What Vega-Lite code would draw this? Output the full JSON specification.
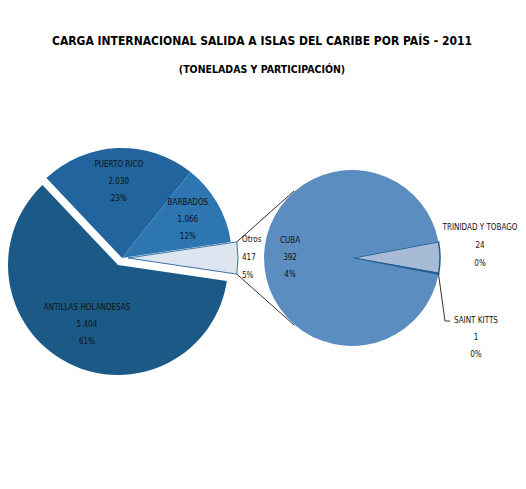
{
  "$schema": "https://vega.github.io/schema/vega-lite/v6.json",
  "width": 514,
  "height": 336,
  "padding": {"left": 5, "top": 34, "right": 7, "bottom": 5},
  "background": "white",
  "title": {
    "text": "CARGA INTERNACIONAL SALIDA A ISLAS DEL CARIBE POR PAÍS - 2011",
    "subtitle": "(TONELADAS Y PARTICIPACIÓN)",
    "anchor": "middle",
    "font": "DejaVu Sans Condensed, DejaVu Sans, sans-serif",
    "fontSize": 12,
    "fontWeight": "bold",
    "color": "#000000",
    "subtitleFont": "DejaVu Sans Condensed, DejaVu Sans, sans-serif",
    "subtitleFontSize": 10.5,
    "subtitleFontWeight": "bold",
    "subtitleColor": "#000000",
    "subtitlePadding": 17,
    "offset": 14
  },
  "config": {
    "view": {"stroke": null},
    "locale": {"number": {"decimal": ",", "thousands": ".", "grouping": [3], "currency": ["$", ""]}},
    "text": {"font": "DejaVu Sans Condensed, DejaVu Sans, sans-serif", "fontSize": 8, "color": "#111111", "baseline": "middle"}
  },
  "resolve": {"scale": {"theta": "independent"}},
  "layer": [
    {
      "data": {"values": [
        {"grafico": "principal", "pais": "Otros", "toneladas": 417, "participacion": 0.05, "orden": 1},
        {"grafico": "principal", "pais": "ANTILLAS HOLANDESAS", "toneladas": 5404, "participacion": 0.61, "orden": 2},
        {"grafico": "principal", "pais": "PUERTO RICO", "toneladas": 2030, "participacion": 0.23, "orden": 3},
        {"grafico": "principal", "pais": "BARBADOS", "toneladas": 1066, "participacion": 0.12, "orden": 4}
      ]},
      "encoding": {
        "theta": {"field": "toneladas", "type": "quantitative", "stack": true, "scale": {"range": [1.42384, 7.70703]}},
        "order": {"field": "orden", "type": "quantitative"},
        "x": {"field": "grafico", "type": "nominal", "axis": null, "scale": {"type": "point", "domain": ["principal", "secundario"], "padding": 0.6174, "align": 0.412}}
      },
      "layer": [
        {
          "mark": {"type": "arc", "outerRadius": 110},
          "encoding": {
            "color": {"field": "pais", "type": "nominal", "legend": null, "scale": {"domain": ["ANTILLAS HOLANDESAS", "PUERTO RICO", "BARBADOS", "Otros", "CUBA", "TRINIDAD Y TOBAGO", "SAINT KITTS"], "range": ["#1B5A87", "#22649D", "#2D76B2", "#DDE5F0", "#5B8DC0", "#A7BAD6", "#1F5F8F"]}},
            "opacity": {"condition": {"test": "datum.pais === 'PUERTO RICO' || datum.pais === 'BARBADOS'", "value": 1}, "value": 0}
          }
        },
        {
          "mark": {"type": "arc", "outerRadius": 110, "xOffset": -4, "yOffset": 7},
          "encoding": {
            "color": {"field": "pais", "type": "nominal", "legend": null, "scale": {"domain": ["ANTILLAS HOLANDESAS", "PUERTO RICO", "BARBADOS", "Otros", "CUBA", "TRINIDAD Y TOBAGO", "SAINT KITTS"], "range": ["#1B5A87", "#22649D", "#2D76B2", "#DDE5F0", "#5B8DC0", "#A7BAD6", "#1F5F8F"]}},
            "opacity": {"condition": {"test": "datum.pais === 'ANTILLAS HOLANDESAS'", "value": 1}, "value": 0}
          }
        },
        {
          "mark": {"type": "arc", "outerRadius": 110, "xOffset": 6, "stroke": "#3F72A8", "strokeWidth": 1},
          "encoding": {
            "color": {"field": "pais", "type": "nominal", "legend": null, "scale": {"domain": ["ANTILLAS HOLANDESAS", "PUERTO RICO", "BARBADOS", "Otros", "CUBA", "TRINIDAD Y TOBAGO", "SAINT KITTS"], "range": ["#1B5A87", "#22649D", "#2D76B2", "#DDE5F0", "#5B8DC0", "#A7BAD6", "#1F5F8F"]}},
            "opacity": {"condition": {"test": "datum.pais === 'Otros'", "value": 1}, "value": 0}
          }
        },
        {
          "mark": {"type": "text", "radius": 76, "dy": -17},
          "encoding": {
            "text": {"field": "pais", "type": "nominal"},
            "opacity": {"condition": {"test": "datum.pais === 'Otros'", "value": 0}, "value": 1}
          }
        },
        {
          "mark": {"type": "text", "radius": 76, "dy": 0},
          "encoding": {
            "text": {"field": "toneladas", "type": "quantitative", "format": ",.0f"},
            "opacity": {"condition": {"test": "datum.pais === 'Otros'", "value": 0}, "value": 1}
          }
        },
        {
          "mark": {"type": "text", "radius": 76, "dy": 17},
          "encoding": {
            "text": {"field": "participacion", "type": "quantitative", "format": ".0%"},
            "opacity": {"condition": {"test": "datum.pais === 'Otros'", "value": 0}, "value": 1}
          }
        },
        {
          "mark": {"type": "text", "radius": 120, "dy": -18, "align": "left"},
          "encoding": {
            "text": {"field": "pais", "type": "nominal"},
            "opacity": {"condition": {"test": "datum.pais === 'Otros'", "value": 1}, "value": 0}
          }
        },
        {
          "mark": {"type": "text", "radius": 120, "dy": 0, "align": "left"},
          "encoding": {
            "text": {"field": "toneladas", "type": "quantitative", "format": ",.0f"},
            "opacity": {"condition": {"test": "datum.pais === 'Otros'", "value": 1}, "value": 0}
          }
        },
        {
          "mark": {"type": "text", "radius": 120, "dy": 18, "align": "left"},
          "encoding": {
            "text": {"field": "participacion", "type": "quantitative", "format": ".0%"},
            "opacity": {"condition": {"test": "datum.pais === 'Otros'", "value": 1}, "value": 0}
          }
        }
      ]
    },
    {
      "data": {"values": [
        {"grafico": "secundario", "pais": "TRINIDAD Y TOBAGO", "toneladas": 24, "participacion": 0, "orden": 1},
        {"grafico": "secundario", "pais": "SAINT KITTS", "toneladas": 1, "participacion": 0, "orden": 2},
        {"grafico": "secundario", "pais": "CUBA", "toneladas": 392, "participacion": 0.04, "orden": 3}
      ]},
      "encoding": {
        "theta": {"field": "toneladas", "type": "quantitative", "stack": true, "scale": {"range": [1.3858, 7.6690]}},
        "order": {"field": "orden", "type": "quantitative"},
        "x": {"field": "grafico", "type": "nominal", "axis": null, "scale": {"type": "point", "domain": ["principal", "secundario"], "padding": 0.6174, "align": 0.412}}
      },
      "layer": [
        {
          "mark": {"type": "arc", "outerRadius": 88, "stroke": "#1F5F8F"},
          "encoding": {
            "color": {"field": "pais", "type": "nominal", "legend": null, "scale": {"domain": ["ANTILLAS HOLANDESAS", "PUERTO RICO", "BARBADOS", "Otros", "CUBA", "TRINIDAD Y TOBAGO", "SAINT KITTS"], "range": ["#1B5A87", "#22649D", "#2D76B2", "#DDE5F0", "#5B8DC0", "#A7BAD6", "#1F5F8F"]}},
            "strokeWidth": {"condition": {"test": "datum.pais === 'CUBA'", "value": 0}, "value": 1.5}
          }
        },
        {
          "mark": {"type": "text", "radius": 62, "dy": -17},
          "encoding": {
            "text": {"field": "pais", "type": "nominal"},
            "opacity": {"condition": {"test": "datum.pais === 'CUBA'", "value": 1}, "value": 0}
          }
        },
        {
          "mark": {"type": "text", "radius": 62, "dy": 0},
          "encoding": {
            "text": {"field": "toneladas", "type": "quantitative", "format": ",.0f"},
            "opacity": {"condition": {"test": "datum.pais === 'CUBA'", "value": 1}, "value": 0}
          }
        },
        {
          "mark": {"type": "text", "radius": 62, "dy": 17},
          "encoding": {
            "text": {"field": "participacion", "type": "quantitative", "format": ".0%"},
            "opacity": {"condition": {"test": "datum.pais === 'CUBA'", "value": 1}, "value": 0}
          }
        },
        {
          "mark": {"type": "text", "radius": 128, "dy": -29},
          "encoding": {
            "text": {"field": "pais", "type": "nominal"},
            "opacity": {"condition": {"test": "datum.pais === 'TRINIDAD Y TOBAGO'", "value": 1}, "value": 0}
          }
        },
        {
          "mark": {"type": "text", "radius": 128, "dy": -11},
          "encoding": {
            "text": {"field": "toneladas", "type": "quantitative", "format": ",.0f"},
            "opacity": {"condition": {"test": "datum.pais === 'TRINIDAD Y TOBAGO'", "value": 1}, "value": 0}
          }
        },
        {
          "mark": {"type": "text", "radius": 128, "dy": 7},
          "encoding": {
            "text": {"field": "participacion", "type": "quantitative", "format": ".0%"},
            "opacity": {"condition": {"test": "datum.pais === 'TRINIDAD Y TOBAGO'", "value": 1}, "value": 0}
          }
        },
        {
          "mark": {"type": "text", "radius": 124, "dx": 2, "dy": 40},
          "encoding": {
            "text": {"field": "pais", "type": "nominal"},
            "opacity": {"condition": {"test": "datum.pais === 'SAINT KITTS'", "value": 1}, "value": 0}
          }
        },
        {
          "mark": {"type": "text", "radius": 124, "dx": 2, "dy": 57},
          "encoding": {
            "text": {"field": "toneladas", "type": "quantitative", "format": ",.0f"},
            "opacity": {"condition": {"test": "datum.pais === 'SAINT KITTS'", "value": 1}, "value": 0}
          }
        },
        {
          "mark": {"type": "text", "radius": 124, "dx": 2, "dy": 74},
          "encoding": {
            "text": {"field": "participacion", "type": "quantitative", "format": ".0%"},
            "opacity": {"condition": {"test": "datum.pais === 'SAINT KITTS'", "value": 1}, "value": 0}
          }
        }
      ]
    },
    {
      "data": {"values": [{"desde": "principal", "hasta": "secundario"}]},
      "mark": {"type": "rule", "color": "#333333", "strokeWidth": 1, "xOffset": 114.8, "x2Offset": -58},
      "encoding": {
        "x": {"field": "desde", "type": "nominal", "axis": null, "scale": {"type": "point", "domain": ["principal", "secundario"], "padding": 0.6174, "align": 0.412}},
        "x2": {"field": "hasta"},
        "y": {"value": {"expr": "height/2 - 16.1"}},
        "y2": {"value": {"expr": "height/2 - 67"}}
      }
    },
    {
      "data": {"values": [{"desde": "principal", "hasta": "secundario"}]},
      "mark": {"type": "rule", "color": "#333333", "strokeWidth": 1, "xOffset": 114.8, "x2Offset": -58},
      "encoding": {
        "x": {"field": "desde", "type": "nominal", "axis": null, "scale": {"type": "point", "domain": ["principal", "secundario"], "padding": 0.6174, "align": 0.412}},
        "x2": {"field": "hasta"},
        "y": {"value": {"expr": "height/2 + 16.1"}},
        "y2": {"value": {"expr": "height/2 + 67"}}
      }
    },
    {
      "data": {"values": [{"desde": "secundario", "hasta": "secundario"}]},
      "mark": {"type": "rule", "color": "#333333", "strokeWidth": 1, "xOffset": 86.5, "x2Offset": 93},
      "encoding": {
        "x": {"field": "desde", "type": "nominal", "axis": null, "scale": {"type": "point", "domain": ["principal", "secundario"], "padding": 0.6174, "align": 0.412}},
        "x2": {"field": "hasta"},
        "y": {"value": {"expr": "height/2 + 16"}},
        "y2": {"value": {"expr": "height/2 + 63"}}
      }
    },
    {
      "data": {"values": [{"desde": "secundario", "hasta": "secundario"}]},
      "mark": {"type": "rule", "color": "#333333", "strokeWidth": 1, "xOffset": 93, "x2Offset": 98},
      "encoding": {
        "x": {"field": "desde", "type": "nominal", "axis": null, "scale": {"type": "point", "domain": ["principal", "secundario"], "padding": 0.6174, "align": 0.412}},
        "x2": {"field": "hasta"},
        "y": {"value": {"expr": "height/2 + 63"}},
        "y2": {"value": {"expr": "height/2 + 63"}}
      }
    }
  ]
}
